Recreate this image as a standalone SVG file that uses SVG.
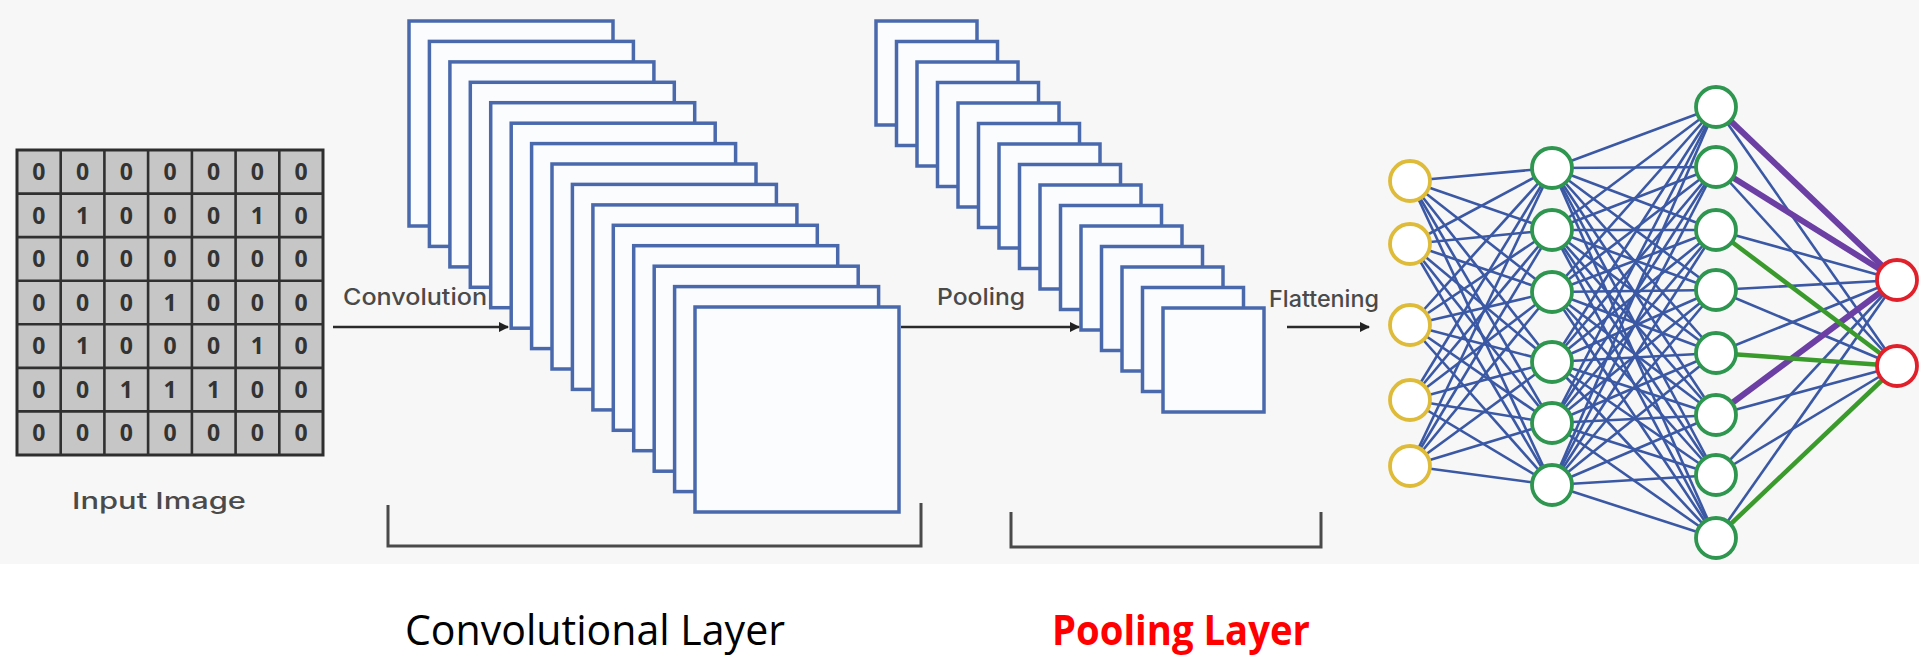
<svg xmlns="http://www.w3.org/2000/svg" width="1919" height="657" viewBox="0 0 1919 657">
  <defs>
    <marker id="arrow" viewBox="0 0 10 10" refX="9" refY="5" markerWidth="4" markerHeight="4" orient="auto">
      <path d="M0,0L10,5L0,10z" fill="#222"/>
    </marker>
  </defs>
  <style>
    .panel{fill:#f7f7f7}
    .cell{fill:#c6c6c6;stroke:#2e2e2e;stroke-width:3}
    .gridline{stroke:#303030;stroke-width:2.6;fill:none}
    .digit{font-family:"Open Sans","Liberation Sans",sans-serif;font-weight:700;font-size:23px;fill:#333;text-anchor:middle}
    .fmap{fill:#fbfcfe;stroke:#4a69ad;stroke-width:3.5}
    .lbl{font-family:Inter,"Open Sans",sans-serif;font-weight:500;font-size:23px;fill:#4a4a4a}
    .flow{stroke:#2a2a2a;stroke-width:2.6;fill:none}
    .bracket{fill:none;stroke:#4a4a4a;stroke-width:3}
    .edge{stroke:#3a58a4;stroke-width:2.6}
    .edge-purple{stroke:#6b3fa3;stroke-width:6}
    .edge-green{stroke:#3a9a2c;stroke-width:4.5}
    .neuron{fill:#fff;stroke-width:3.8}
    .in{stroke:#dfbb3a}
    .hid{stroke:#2f9650}
    .out{stroke:#e0212b}
    .caption{font-family:"Open Sans","Liberation Sans",sans-serif;font-size:42px;fill:#000}
    .caption-red{font-weight:bold;fill:#ff0000}
  </style>

  <rect class="panel" x="0" y="0" width="1919" height="564"/>

  <!-- input image: 7x7 binary grid -->
  <g id="input-image">
    <rect class="cell" x="17" y="150" width="306" height="305"/>
    <path class="gridline" d="M60.7 150V455M104.4 150V455M148.1 150V455M191.9 150V455M235.6 150V455M279.3 150V455M17 193.6H323M17 237.1H323M17 280.7H323M17 324.3H323M17 367.9H323M17 411.4H323"/>
    <g class="digit">
      <text x="38.9" y="180">0</text><text x="82.6" y="180">0</text><text x="126.3" y="180">0</text><text x="170" y="180">0</text><text x="213.7" y="180">0</text><text x="257.4" y="180">0</text><text x="301.1" y="180">0</text>
      <text x="38.9" y="223.5">0</text><text x="82.6" y="223.5">1</text><text x="126.3" y="223.5">0</text><text x="170" y="223.5">0</text><text x="213.7" y="223.5">0</text><text x="257.4" y="223.5">1</text><text x="301.1" y="223.5">0</text>
      <text x="38.9" y="267">0</text><text x="82.6" y="267">0</text><text x="126.3" y="267">0</text><text x="170" y="267">0</text><text x="213.7" y="267">0</text><text x="257.4" y="267">0</text><text x="301.1" y="267">0</text>
      <text x="38.9" y="310.5">0</text><text x="82.6" y="310.5">0</text><text x="126.3" y="310.5">0</text><text x="170" y="310.5">1</text><text x="213.7" y="310.5">0</text><text x="257.4" y="310.5">0</text><text x="301.1" y="310.5">0</text>
      <text x="38.9" y="354">0</text><text x="82.6" y="354">1</text><text x="126.3" y="354">0</text><text x="170" y="354">0</text><text x="213.7" y="354">0</text><text x="257.4" y="354">1</text><text x="301.1" y="354">0</text>
      <text x="38.9" y="397.7">0</text><text x="82.6" y="397.7">0</text><text x="126.3" y="397.7">1</text><text x="170" y="397.7">1</text><text x="213.7" y="397.7">1</text><text x="257.4" y="397.7">0</text><text x="301.1" y="397.7">0</text>
      <text x="38.9" y="441.2">0</text><text x="82.6" y="441.2">0</text><text x="126.3" y="441.2">0</text><text x="170" y="441.2">0</text><text x="213.7" y="441.2">0</text><text x="257.4" y="441.2">0</text><text x="301.1" y="441.2">0</text>
    </g>
    <text class="lbl" x="72" y="509" font-size="26" textLength="174" lengthAdjust="spacingAndGlyphs">Input Image</text>
  </g>

  <!-- convolution feature maps, back to front -->
  <g id="conv-maps">
    <rect class="fmap" x="409" y="21" width="204" height="205"/>
    <rect class="fmap" x="429.4" y="41.4" width="204" height="205"/>
    <rect class="fmap" x="449.9" y="61.9" width="204" height="205"/>
    <rect class="fmap" x="470.3" y="82.3" width="204" height="205"/>
    <rect class="fmap" x="490.7" y="102.7" width="204" height="205"/>
    <rect class="fmap" x="511.2" y="123.2" width="204" height="205"/>
    <rect class="fmap" x="531.6" y="143.6" width="204" height="205"/>
    <rect class="fmap" x="552" y="164" width="204" height="205"/>
    <rect class="fmap" x="572.4" y="184.4" width="204" height="205"/>
    <rect class="fmap" x="592.9" y="204.9" width="204" height="205"/>
    <rect class="fmap" x="613.3" y="225.3" width="204" height="205"/>
    <rect class="fmap" x="633.7" y="245.7" width="204" height="205"/>
    <rect class="fmap" x="654.2" y="266.2" width="204" height="205"/>
    <rect class="fmap" x="674.6" y="286.6" width="204" height="205"/>
    <rect class="fmap" x="695" y="307" width="204" height="205"/>
  </g>

  <!-- pooled feature maps, back to front -->
  <g id="pool-maps">
    <rect class="fmap" x="876" y="21" width="101" height="104"/>
    <rect class="fmap" x="896.5" y="41.5" width="101" height="104"/>
    <rect class="fmap" x="917" y="62" width="101" height="104"/>
    <rect class="fmap" x="937.5" y="82.5" width="101" height="104"/>
    <rect class="fmap" x="958" y="103" width="101" height="104"/>
    <rect class="fmap" x="978.5" y="123.5" width="101" height="104"/>
    <rect class="fmap" x="999" y="144" width="101" height="104"/>
    <rect class="fmap" x="1019.5" y="164.5" width="101" height="104"/>
    <rect class="fmap" x="1040" y="185" width="101" height="104"/>
    <rect class="fmap" x="1060.5" y="205.5" width="101" height="104"/>
    <rect class="fmap" x="1081" y="226" width="101" height="104"/>
    <rect class="fmap" x="1101.5" y="246.5" width="101" height="104"/>
    <rect class="fmap" x="1122" y="267" width="101" height="104"/>
    <rect class="fmap" x="1142.5" y="287.5" width="101" height="104"/>
    <rect class="fmap" x="1163" y="308" width="101" height="104"/>
  </g>

  <!-- stage arrows, labels and brackets -->
  <g id="connectors">
    <line class="flow" x1="333" y1="327" x2="508" y2="327" marker-end="url(#arrow)"/>
    <line class="flow" x1="901" y1="327" x2="1079" y2="327" marker-end="url(#arrow)"/>
    <line class="flow" x1="1287" y1="327" x2="1369" y2="327" marker-end="url(#arrow)"/>
    <path class="bracket" d="M388 505V546H921V503"/>
    <path class="bracket" d="M1011 512V547H1321V512"/>
  </g>
  <text class="lbl" x="343" y="305" textLength="144" lengthAdjust="spacingAndGlyphs">Convolution</text>
  <text class="lbl" x="937" y="305" textLength="88" lengthAdjust="spacingAndGlyphs">Pooling</text>
  <text class="lbl" x="1269" y="307" textLength="110" lengthAdjust="spacingAndGlyphs">Flattening</text>

  <!-- fully connected network: weights -->
  <g id="nn-edges" class="edge">
    <line x1="1410" y1="181" x2="1552" y2="168"/><line x1="1410" y1="181" x2="1552" y2="230"/><line x1="1410" y1="181" x2="1552" y2="292"/><line x1="1410" y1="181" x2="1552" y2="362"/><line x1="1410" y1="181" x2="1552" y2="423"/><line x1="1410" y1="181" x2="1552" y2="485"/>
    <line x1="1410" y1="244" x2="1552" y2="168"/><line x1="1410" y1="244" x2="1552" y2="230"/><line x1="1410" y1="244" x2="1552" y2="292"/><line x1="1410" y1="244" x2="1552" y2="362"/><line x1="1410" y1="244" x2="1552" y2="423"/><line x1="1410" y1="244" x2="1552" y2="485"/>
    <line x1="1410" y1="325" x2="1552" y2="168"/><line x1="1410" y1="325" x2="1552" y2="230"/><line x1="1410" y1="325" x2="1552" y2="292"/><line x1="1410" y1="325" x2="1552" y2="362"/><line x1="1410" y1="325" x2="1552" y2="423"/><line x1="1410" y1="325" x2="1552" y2="485"/>
    <line x1="1410" y1="400" x2="1552" y2="168"/><line x1="1410" y1="400" x2="1552" y2="230"/><line x1="1410" y1="400" x2="1552" y2="292"/><line x1="1410" y1="400" x2="1552" y2="362"/><line x1="1410" y1="400" x2="1552" y2="423"/><line x1="1410" y1="400" x2="1552" y2="485"/>
    <line x1="1410" y1="466" x2="1552" y2="168"/><line x1="1410" y1="466" x2="1552" y2="230"/><line x1="1410" y1="466" x2="1552" y2="292"/><line x1="1410" y1="466" x2="1552" y2="362"/><line x1="1410" y1="466" x2="1552" y2="423"/><line x1="1410" y1="466" x2="1552" y2="485"/>

    <line x1="1552" y1="168" x2="1716" y2="107"/><line x1="1552" y1="168" x2="1716" y2="167"/><line x1="1552" y1="168" x2="1716" y2="230"/><line x1="1552" y1="168" x2="1716" y2="290"/><line x1="1552" y1="168" x2="1716" y2="353"/><line x1="1552" y1="168" x2="1716" y2="415"/><line x1="1552" y1="168" x2="1716" y2="475"/><line x1="1552" y1="168" x2="1716" y2="538"/>
    <line x1="1552" y1="230" x2="1716" y2="107"/><line x1="1552" y1="230" x2="1716" y2="167"/><line x1="1552" y1="230" x2="1716" y2="230"/><line x1="1552" y1="230" x2="1716" y2="290"/><line x1="1552" y1="230" x2="1716" y2="353"/><line x1="1552" y1="230" x2="1716" y2="415"/><line x1="1552" y1="230" x2="1716" y2="475"/><line x1="1552" y1="230" x2="1716" y2="538"/>
    <line x1="1552" y1="292" x2="1716" y2="107"/><line x1="1552" y1="292" x2="1716" y2="167"/><line x1="1552" y1="292" x2="1716" y2="230"/><line x1="1552" y1="292" x2="1716" y2="290"/><line x1="1552" y1="292" x2="1716" y2="353"/><line x1="1552" y1="292" x2="1716" y2="415"/><line x1="1552" y1="292" x2="1716" y2="475"/><line x1="1552" y1="292" x2="1716" y2="538"/>
    <line x1="1552" y1="362" x2="1716" y2="107"/><line x1="1552" y1="362" x2="1716" y2="167"/><line x1="1552" y1="362" x2="1716" y2="230"/><line x1="1552" y1="362" x2="1716" y2="290"/><line x1="1552" y1="362" x2="1716" y2="353"/><line x1="1552" y1="362" x2="1716" y2="415"/><line x1="1552" y1="362" x2="1716" y2="475"/><line x1="1552" y1="362" x2="1716" y2="538"/>
    <line x1="1552" y1="423" x2="1716" y2="107"/><line x1="1552" y1="423" x2="1716" y2="167"/><line x1="1552" y1="423" x2="1716" y2="230"/><line x1="1552" y1="423" x2="1716" y2="290"/><line x1="1552" y1="423" x2="1716" y2="353"/><line x1="1552" y1="423" x2="1716" y2="415"/><line x1="1552" y1="423" x2="1716" y2="475"/><line x1="1552" y1="423" x2="1716" y2="538"/>
    <line x1="1552" y1="485" x2="1716" y2="107"/><line x1="1552" y1="485" x2="1716" y2="167"/><line x1="1552" y1="485" x2="1716" y2="230"/><line x1="1552" y1="485" x2="1716" y2="290"/><line x1="1552" y1="485" x2="1716" y2="353"/><line x1="1552" y1="485" x2="1716" y2="415"/><line x1="1552" y1="485" x2="1716" y2="475"/><line x1="1552" y1="485" x2="1716" y2="538"/>

    <line x1="1716" y1="107" x2="1897" y2="280"/><line x1="1716" y1="107" x2="1897" y2="366"/>
    <line x1="1716" y1="167" x2="1897" y2="280"/><line x1="1716" y1="167" x2="1897" y2="366"/>
    <line x1="1716" y1="230" x2="1897" y2="280"/><line x1="1716" y1="230" x2="1897" y2="366"/>
    <line x1="1716" y1="290" x2="1897" y2="280"/><line x1="1716" y1="290" x2="1897" y2="366"/>
    <line x1="1716" y1="353" x2="1897" y2="280"/><line x1="1716" y1="353" x2="1897" y2="366"/>
    <line x1="1716" y1="415" x2="1897" y2="280"/><line x1="1716" y1="415" x2="1897" y2="366"/>
    <line x1="1716" y1="475" x2="1897" y2="280"/><line x1="1716" y1="475" x2="1897" y2="366"/>
    <line x1="1716" y1="538" x2="1897" y2="280"/><line x1="1716" y1="538" x2="1897" y2="366"/>

    <!-- highlighted weights into the output layer -->
    <line class="edge-purple" x1="1716" y1="107" x2="1897" y2="280"/>
    <line class="edge-purple" x1="1716" y1="167" x2="1897" y2="280"/>
    <line class="edge-purple" x1="1716" y1="415" x2="1897" y2="280"/>
    <line class="edge-green" x1="1716" y1="230" x2="1897" y2="366"/>
    <line class="edge-green" x1="1716" y1="353" x2="1897" y2="366"/>
    <line class="edge-green" x1="1716" y1="538" x2="1897" y2="366"/>
  </g>

  <!-- fully connected network: neurons -->
  <g id="input-layer">
    <circle id="in-1" class="neuron in" cx="1410" cy="181" r="20"/>
    <circle id="in-2" class="neuron in" cx="1410" cy="244" r="20"/>
    <circle id="in-3" class="neuron in" cx="1410" cy="325" r="20"/>
    <circle id="in-4" class="neuron in" cx="1410" cy="400" r="20"/>
    <circle id="in-5" class="neuron in" cx="1410" cy="466" r="20"/>
  </g>
  <g id="hidden-layer-1">
    <circle id="h1-1" class="neuron hid" cx="1552" cy="168" r="20"/>
    <circle id="h1-2" class="neuron hid" cx="1552" cy="230" r="20"/>
    <circle id="h1-3" class="neuron hid" cx="1552" cy="292" r="20"/>
    <circle id="h1-4" class="neuron hid" cx="1552" cy="362" r="20"/>
    <circle id="h1-5" class="neuron hid" cx="1552" cy="423" r="20"/>
    <circle id="h1-6" class="neuron hid" cx="1552" cy="485" r="20"/>
  </g>
  <g id="hidden-layer-2">
    <circle id="h2-1" class="neuron hid" cx="1716" cy="107" r="20"/>
    <circle id="h2-2" class="neuron hid" cx="1716" cy="167" r="20"/>
    <circle id="h2-3" class="neuron hid" cx="1716" cy="230" r="20"/>
    <circle id="h2-4" class="neuron hid" cx="1716" cy="290" r="20"/>
    <circle id="h2-5" class="neuron hid" cx="1716" cy="353" r="20"/>
    <circle id="h2-6" class="neuron hid" cx="1716" cy="415" r="20"/>
    <circle id="h2-7" class="neuron hid" cx="1716" cy="475" r="20"/>
    <circle id="h2-8" class="neuron hid" cx="1716" cy="538" r="20"/>
  </g>
  <g id="output-layer">
    <circle id="out-1" class="neuron out" cx="1897" cy="280" r="20"/>
    <circle id="out-2" class="neuron out" cx="1897" cy="366" r="20"/>
  </g>

  <!-- captions -->
  <text class="caption" x="405" y="645" textLength="380" lengthAdjust="spacingAndGlyphs">Convolutional Layer</text>
  <text class="caption caption-red" x="1052" y="645" textLength="258" lengthAdjust="spacingAndGlyphs">Pooling Layer</text>
</svg>
